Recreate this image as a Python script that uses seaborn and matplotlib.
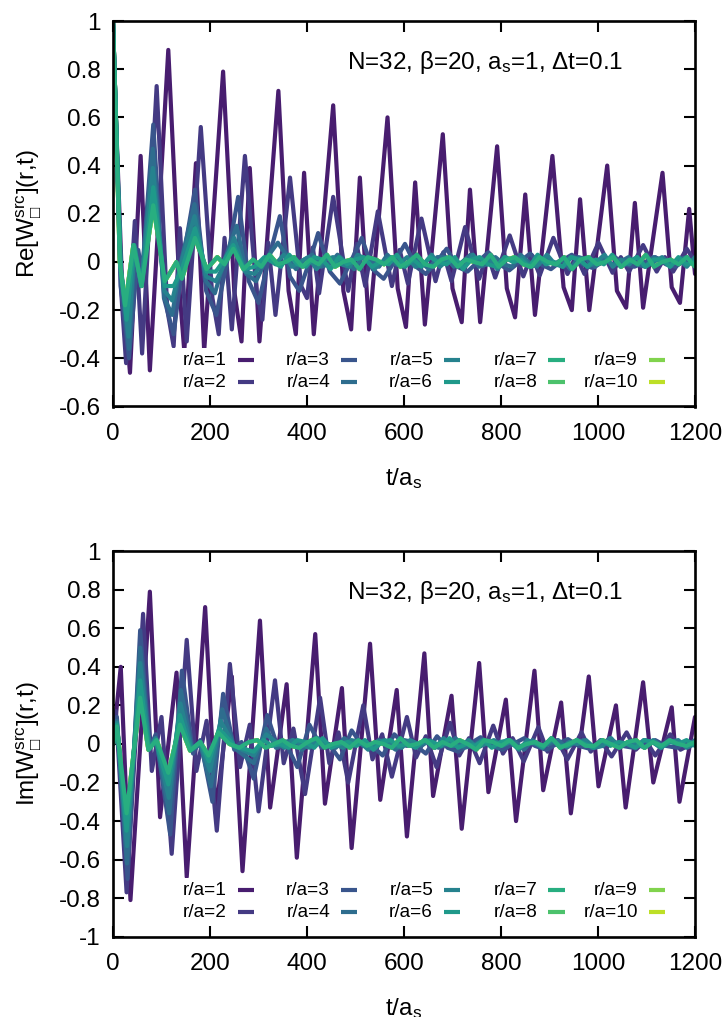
import numpy as np
import matplotlib
matplotlib.use("Agg")
import matplotlib.pyplot as plt
import seaborn as sns
from matplotlib import font_manager as fm
from matplotlib.patches import Rectangle
from matplotlib.lines import Line2D

sns.set_theme(style="white")
_names = {f.name for f in fm.fontManager.ttflist}
BASE = "Liberation Sans" if "Liberation Sans" in _names else "DejaVu Sans"
plt.rcParams["font.family"] = [BASE, "DejaVu Sans"]
plt.rcParams["mathtext.fontset"] = "custom"
plt.rcParams["mathtext.rm"] = BASE
plt.rcParams["mathtext.it"] = BASE
plt.rcParams["mathtext.fallback"] = "stixsans"
plt.rcParams["axes.unicode_minus"] = False

# ---------------- data ----------------
labels = [f"r/a={k}" for k in range(1, 11)]
x_ticks = [0, 200, 400, 600, 800, 1000, 1200]
re_yticks = [-0.6, -0.4, -0.2, 0, 0.2, 0.4, 0.6, 0.8, 1]
im_yticks = [-1, -0.8, -0.6, -0.4, -0.2, 0, 0.2, 0.4, 0.6, 0.8, 1]

re_r1 = [(0,1.0),(6,0.6),(18,-0.05),(35,-0.46),(57,0.44),(76,-0.45),(114,0.88),(138,-0.14),(147,-0.37),(171,0.41),(188,-0.37),(227,0.79),(250,-0.12),(265,-0.33),(282,0.39),(302,-0.33),
         (341,0.71),(362,-0.12),(377,-0.30),(394,0.37),(414,-0.30),(454,0.65),(475,-0.12),(491,-0.28),(509,0.35),(528,-0.28),(566,0.60),(587,-0.11),(604,-0.27),(623,0.33),(643,-0.26),
         (680,0.53),(700,-0.11),(719,-0.25),(736,0.30),(757,-0.25),(792,0.48),(812,-0.11),(829,-0.23),(850,0.28),(870,-0.22),(906,0.44),(929,-0.105),(946,-0.20),(963,0.26),(982,-0.20),
         (1019,0.40),(1039,-0.12),(1058,-0.19),(1076,0.245),(1093,-0.19),(1133,0.37),(1152,-0.105),(1169,-0.17),(1188,0.22),(1200,-0.05)]
re_r2 = [(0,1.0),(6,0.6),(16,-0.1),(27,-0.42),(45,0.17),(60,-0.38),(90,0.73),(112,-0.20),(125,-0.35),(138,0.14),(152,-0.33),(181,0.56),(205,-0.15),(218,-0.30),(230,0.10),(245,-0.28),
         (272,0.44),(296,-0.12),(308,-0.24),(320,0.08),(335,-0.22),(365,0.35),(388,-0.10),(400,-0.15),(412,0.06),(425,-0.13),(454,0.27),(485,-0.12),(502,0.075),(520,-0.10),(546,0.21),
         (575,-0.10),(591,0.05),(608,-0.09),(636,0.18),(665,-0.08),(681,0.04),(698,-0.08),(726,0.145),(755,-0.07),(772,0.035),(788,-0.065),(818,0.11),(846,-0.06),(863,0.03),(880,-0.055),
         (908,0.10),(937,-0.05),(955,0.025),(972,-0.05),(1001,0.08),(1030,-0.045),(1047,0.02),(1064,-0.04),(1093,0.07),(1121,-0.04),(1138,0.02),(1155,-0.04),(1183,0.055),(1200,0.0)]
re_r3 = [(0,1.0),(6,0.6),(16,-0.1),(33,-0.40),(52,0.05),(60,-0.05),(83,0.57),(105,-0.15),(125,-0.30),(145,0.02),(169,0.30),(192,-0.12),(213,-0.22),(235,0.0),(258,0.27),(280,-0.08),
         (300,-0.17),(322,0.02),(344,0.19),(365,-0.06),(384,-0.12),(405,0.0),(423,0.12),(447,-0.04),(468,-0.09),(490,0.0),(513,0.10),(535,-0.03),(558,-0.07),(580,0.0),(602,0.075),
         (625,-0.02),(645,-0.05),(667,0.0),(688,0.055),(710,-0.02),(731,-0.04),(752,0.0),(774,0.04),(797,-0.01),(817,-0.035),(838,0.0),(860,0.035),(882,-0.01),(903,-0.03),(925,0.005),
         (946,0.03),(968,-0.01),(989,-0.025),(1010,0.0),(1032,0.025),(1054,-0.01),(1075,-0.02),(1097,0.0),(1118,0.02),(1140,-0.01),(1160,-0.02),(1180,0.01),(1200,-0.005)]
re_r4 = [(0,1.0),(6,0.6),(16,-0.05),(33,-0.36),(45,0.06),(58,-0.10),(82,0.47),(106,-0.15),(122,-0.22),(140,0.0),(168,0.24),(192,-0.08),(210,-0.13),(232,0.02),(255,0.15),(275,-0.05),(295,-0.08),(318,0.02),(340,0.08)]
re_r5 = [(0,1.0),(6,0.6),(16,-0.03),(32,-0.31),(44,0.07),(58,-0.10),(82,0.39),(106,-0.12),(122,-0.16),(140,-0.01),(168,0.19),(192,-0.06),(212,-0.08),(232,0.0),(250,0.10),(272,-0.04),(292,-0.05),(315,0.02)]
re_r6 = [(0,1.0),(6,0.6),(16,-0.02),(28,-0.24),(43,0.07),(59,-0.10),(83,0.31),(107,-0.10),(125,-0.10),(142,-0.03),(169,0.14),(193,-0.04),(212,-0.04),(230,0.01),(248,0.07),(270,-0.03),(292,-0.02)]
re_r7 = [(0,1.0),(6,0.6),(14,0.0),(25,-0.18),(42,0.07),(59,-0.10),(83,0.235),(107,-0.08),(131,0.0),(142,-0.07),(169,0.10),(193,-0.03),(215,0.02),(230,-0.01),(248,0.055),(269,-0.03)]

re_r4_tail = [0.02,-0.03,0.01,0.03,-0.02,-0.01,0.03,0.00,-0.03,0.02,0.01,-0.02,0.03,-0.01,-0.02,0.02,0.00,-0.03,0.02,0.02,-0.02,0.00,0.03,-0.02,-0.01,0.02,-0.01,-0.02,0.03,0.00,-0.02,0.02,-0.01,0.01,-0.03,0.02,0.01,-0.02,0.02,-0.01,0.00,0.02,-0.01,-0.02,0.02,0.01,-0.02,0.01,0.02,-0.01]
re_r5_tail = [-0.01,0.03,-0.02,0.00,0.02,-0.03,0.01,0.02,-0.01,-0.02,0.03,0.01,-0.03,0.00,0.02,-0.01,0.02,-0.02,-0.01,0.03,-0.02,0.01,0.00,-0.02,0.03,-0.01,0.01,-0.03,0.02,0.00,0.02,-0.02,-0.01,0.03,-0.01,-0.02,0.02,0.01,-0.02,0.00,0.03,-0.02,0.01,-0.01,0.02,-0.02,0.00,0.02,-0.01,0.01,-0.02,0.02]
re_r6_tail = [0.02,0.00,-0.02,0.03,-0.01,-0.02,0.02,0.01,-0.03,0.02,-0.01,0.01,0.02,-0.02,0.00,-0.01,0.03,-0.02,0.01,-0.02,0.02,0.00,-0.01,0.02,-0.03,0.01,0.02,-0.01,-0.02,0.02,0.00,0.01,-0.02,0.03,-0.01,0.00,-0.02,0.02,0.01,-0.02,0.01,-0.01,0.03,-0.02,0.00,0.02,-0.02,0.01,0.01,-0.02,0.02,-0.01,0.00]
re_r7_tail = [0.01,-0.02,0.03,-0.01,0.00,0.02,-0.02,0.01,-0.01,0.03,-0.02,0.00,0.01,-0.03,0.02,0.01,-0.01,0.02,-0.02,0.00,0.03,-0.01,-0.02,0.01,0.02,-0.02,0.01,0.00,-0.01,0.03,-0.02,0.01,0.02,-0.01,-0.02,0.02,0.00,-0.01,0.02,-0.03,0.01,0.02,-0.01,0.00,0.02,-0.02,0.01,-0.01,0.03,-0.02,0.00,0.01,-0.01,0.02,-0.02]
# r/a = 8, 9, 10 coincide with r/a = 7 in the picture (hidden under it)
re_r8, re_r9, re_r10 = re_r7, re_r7, re_r7
re_r8_tail, re_r9_tail, re_r10_tail = re_r7_tail, re_r7_tail, re_r7_tail

# Imaginary part
im_r1 = [(0,0.0),(16,0.40),(36,-0.81),(76,0.79),(97,-0.38),(131,0.37),(152,-0.69),(190,0.71),(212,-0.36),(245,0.35),(267,-0.66),(303,0.64),(324,-0.33),(358,0.31),(379,-0.59),
         (417,0.57),(437,-0.31),(472,0.29),(492,-0.54),(530,0.52),(551,-0.29),(585,0.28),(606,-0.48),(642,0.47),(660,-0.27),(698,0.25),(719,-0.44),(755,0.42),(774,-0.25),(810,0.23),
         (831,-0.40),(869,0.38),(887,-0.24),(924,0.215),(944,-0.36),(981,0.35),(1001,-0.22),(1037,0.20),(1057,-0.33),(1093,0.32),(1114,-0.20),(1152,0.19),(1168,-0.30),(1200,0.14)]
im_r2 = [(0,0.0),(6,0.17),(28,-0.77),(62,0.675),(80,-0.14),(100,0.14),(121,-0.57),(152,0.54),(172,-0.14),(193,0.12),(214,-0.45),(241,0.415),(262,-0.12),(282,0.10),(300,-0.35),
         (334,0.33),(352,-0.10),(372,0.08),(396,-0.26),(427,0.24),(446,-0.10),(465,0.06),(485,-0.20),(516,0.20),(535,-0.08),(555,0.05),(575,-0.17),(606,0.14),(625,-0.07),(645,0.04),
         (667,-0.12),(695,0.11),(714,-0.06),(734,0.03),(756,-0.10),(784,0.095),(804,-0.05),(824,0.03),(847,-0.09),(877,0.087),(896,-0.04),(916,0.02),(937,-0.08),(966,0.06),(985,-0.04),
         (1005,0.02),(1028,-0.065),(1059,0.06),(1078,-0.03),(1098,0.02),(1118,-0.06),(1149,0.05),(1170,-0.03),(1200,0.01)]
im_r3 = [(0,0.0),(8,0.14),(30,-0.70),(56,0.59),(76,-0.02),(88,0.05),(118,-0.47),(142,0.38),(165,-0.05),(180,0.02),(205,-0.30),(227,0.26),(250,-0.03),(265,0.01),(290,-0.18),
         (318,0.15),(340,-0.02),(355,0.01),(380,-0.12),(405,0.10),(430,-0.02),(445,0.0),(468,-0.08),(492,0.07),(515,-0.01),(530,0.0),(556,-0.06),(580,0.05),(605,-0.01),(620,0.0),
         (645,-0.05),(668,0.04),(690,-0.02),(712,-0.04),(735,0.0),(758,0.035),(780,-0.01),(803,-0.03),(825,0.0),(848,0.03),(870,-0.01),(893,-0.03),(915,0.0),(938,0.025),(960,-0.01),
         (983,-0.025),(1005,0.0),(1028,0.02),(1050,-0.01),(1073,-0.02),(1095,0.0),(1118,0.02),(1140,-0.01),(1163,-0.02),(1185,0.01),(1200,0.0)]
im_r4 = [(0,0.0),(8,0.12),(29,-0.62),(56,0.50),(75,-0.02),(88,0.03),(116,-0.36),(140,0.28),(163,-0.03),(180,0.0),(202,-0.22),(225,0.18),(250,-0.02),(290,-0.10),(316,0.08)]
im_r5 = [(0,0.0),(8,0.11),(29,-0.53),(56,0.42),(75,-0.02),(88,0.03),(115,-0.28),(139,0.21),(162,-0.03),(180,0.0),(200,-0.14),(222,0.12),(250,-0.01),(290,-0.06),(316,0.05)]
im_r6 = [(0,0.0),(8,0.10),(28,-0.45),(56,0.33),(74,-0.03),(88,0.02),(114,-0.21),(138,0.15),(160,-0.03),(180,0.01),(198,-0.09),(219,0.08),(250,-0.01),(290,-0.04)]
im_r7 = [(0,0.0),(8,0.09),(28,-0.36),(56,0.24),(73,-0.03),(90,0.02),(114,-0.15),(138,0.10),(159,-0.035),(180,0.01),(197,-0.06),(217,0.06),(240,0.0),(260,-0.02)]

im_r4_tail = [-0.02,0.01,0.02,-0.03,0.00,0.02,-0.01,-0.02,0.03,-0.01,0.01,-0.02,0.02,0.00,-0.03,0.02,0.01,-0.01,0.02,-0.02,0.00,0.03,-0.02,-0.01,0.02,0.00,-0.02,0.02,0.01,-0.03,0.02,-0.01,0.00,0.02,-0.02,0.01,0.02,-0.02,-0.01,0.03,-0.01,0.00,-0.02,0.02,0.01,-0.02,0.02,0.00,-0.01,0.02]
im_r5_tail = [0.01,-0.02,0.02,0.00,-0.02,0.03,-0.01,0.00,-0.02,0.02,0.01,-0.03,0.01,0.02,-0.01,-0.02,0.02,0.00,0.01,-0.02,0.03,-0.01,-0.01,0.02,-0.02,0.00,0.02,-0.01,0.01,-0.03,0.02,0.00,-0.01,0.02,-0.02,0.01,0.00,0.02,-0.02,-0.01,0.03,-0.02,0.01,0.00,-0.02,0.02,-0.01,0.01,0.02,-0.02,0.00]
im_r6_tail = [0.02,-0.01,0.00,-0.02,0.02,0.01,-0.02,0.03,-0.02,0.00,0.01,-0.01,0.02,-0.03,0.01,0.02,-0.01,0.00,-0.02,0.02,0.01,-0.01,0.03,-0.02,0.00,-0.01,0.02,-0.02,0.01,0.02,-0.02,0.00,0.01,-0.02,0.03,-0.01,-0.01,0.02,0.00,-0.02,0.02,-0.01,0.01,0.00,-0.02,0.02,0.01,-0.02,0.01,0.00,0.02,-0.01]
im_r7_tail = [0.01,0.02,-0.02,0.00,0.02,-0.01,-0.02,0.01,0.03,-0.02,0.00,0.01,-0.02,0.02,-0.01,0.01,0.00,-0.02,0.03,-0.01,0.00,0.02,-0.02,0.01,-0.01,0.02,0.00,-0.03,0.02,0.01,-0.01,0.02,-0.02,0.00,0.01,-0.01,0.03,-0.02,0.00,0.02,-0.01,-0.01,0.02,0.00,-0.02,0.01,0.02,-0.02,0.01,-0.01,0.02,0.00,-0.01,0.01]
im_r8, im_r9, im_r10 = im_r7, im_r7, im_r7
im_r8_tail, im_r9_tail, im_r10_tail = im_r7_tail, im_r7_tail, im_r7_tail

# ---------------- helpers ----------------
def series(pairs, tail=None):
    t = [p[0] for p in pairs]
    v = [p[1] for p in pairs]
    if tail is not None:
        start = t[-1] + 20
        tt = np.linspace(start, 1200, len(tail))
        t = t + list(tt)
        v = v + list(tail)
    return np.array(t, float), np.array(v, float)

re_series = [series(re_r1), series(re_r2), series(re_r3), series(re_r4, re_r4_tail), series(re_r5, re_r5_tail),
             series(re_r6, re_r6_tail), series(re_r7, re_r7_tail), series(re_r8, re_r8_tail),
             series(re_r9, re_r9_tail), series(re_r10, re_r10_tail)]
im_series = [series(im_r1), series(im_r2), series(im_r3), series(im_r4, im_r4_tail), series(im_r5, im_r5_tail),
             series(im_r6, im_r6_tail), series(im_r7, im_r7_tail), series(im_r8, im_r8_tail),
             series(im_r9, im_r9_tail), series(im_r10, im_r10_tail)]

cmap = plt.get_cmap("viridis")
colors = [cmap(p) for p in np.linspace(0.08, 0.9, 10)]
zorders = [3, 4, 5, 6, 7, 8, 9, 2, 2, 2]

FIG_W, FIG_H = 728, 1017
fig = plt.figure(figsize=(FIG_W / 100, FIG_H / 100), dpi=100)
L, W = 113 / FIG_W, 582 / FIG_W
H = 385.5 / FIG_H
ax_re = fig.add_axes([L, 1 - 406.5 / FIG_H, W, H])
ax_im = fig.add_axes([L, 1 - 936.7 / FIG_H, W, H])

FS = 17.5
ANN = r"N=32, β=20, a$_\mathregular{s}$=1, Δt=0.1"
SQ = "\u25a1"

def style(ax, yticks, ylim, ylabel):
    ax.set_xlim(0, 1200)
    ax.set_ylim(*ylim)
    ax.set_xticks(x_ticks)
    ax.set_xticklabels([f"{v:g}" for v in x_ticks])
    ax.set_yticks(yticks)
    ax.set_yticklabels([f"{v:g}" for v in yticks])
    ax.tick_params(direction="in", length=8, width=1.5, colors="black", labelcolor="black",
                   top=True, right=True, bottom=True, left=True, labelsize=FS)
    ax.tick_params(axis="x", pad=12)
    ax.tick_params(axis="y", pad=9)
    for s in ax.spines.values():
        s.set_color("black")
        s.set_linewidth(1.9)
        s.set_zorder(30)
    ax.set_ylabel(ylabel, fontsize=FS, color="black")
    ax.yaxis.set_label_coords(-0.118, 0.5)
    ax.set_xlabel(r"t/a$_\mathregular{s}$", fontsize=FS, color="black")
    ax.xaxis.set_label_coords(0.5, -0.155)
    ax.text(0.402, 0.893, ANN, transform=ax.transAxes, fontsize=FS, ha="left", va="center", color="black", zorder=40)
    # legend (manual, opaque white box)
    ax.add_patch(Rectangle((0.098, 0.032), 0.876, 0.121, transform=ax.transAxes, facecolor="white",
                           edgecolor="none", zorder=20))
    col_x = [0.196, 0.373, 0.550, 0.729, 0.902]
    row_y = [0.120, 0.063]
    for i, lab in enumerate(labels):
        c, r = i // 2, i % 2
        ax.text(col_x[c], row_y[r], lab, transform=ax.transAxes, fontsize=13.7, ha="right", va="center",
                color="black", zorder=21)
        ax.add_line(Line2D([col_x[c] + 0.019, col_x[c] + 0.047], [row_y[r], row_y[r]], transform=ax.transAxes,
                           color=colors[i], lw=3.0, zorder=21, solid_capstyle="butt"))

for ax, data in ((ax_re, re_series), (ax_im, im_series)):
    for i, (t, v) in enumerate(data):
        sns.lineplot(x=t, y=v, ax=ax, color=colors[i], linewidth=3.0, sort=False, estimator=None,
                     zorder=zorders[i], solid_joinstyle="round", solid_capstyle="round")

style(ax_re, re_yticks, (-0.6, 1.0), "Re[W$^\\mathregular{src}_{\\mathregular{" + SQ + "}}$](r,t)")
style(ax_im, im_yticks, (-1.0, 1.0), "Im[W$^\\mathregular{src}_{\\mathregular{" + SQ + "}}$](r,t)")

fig.savefig("out.png", dpi=100, facecolor="white")
